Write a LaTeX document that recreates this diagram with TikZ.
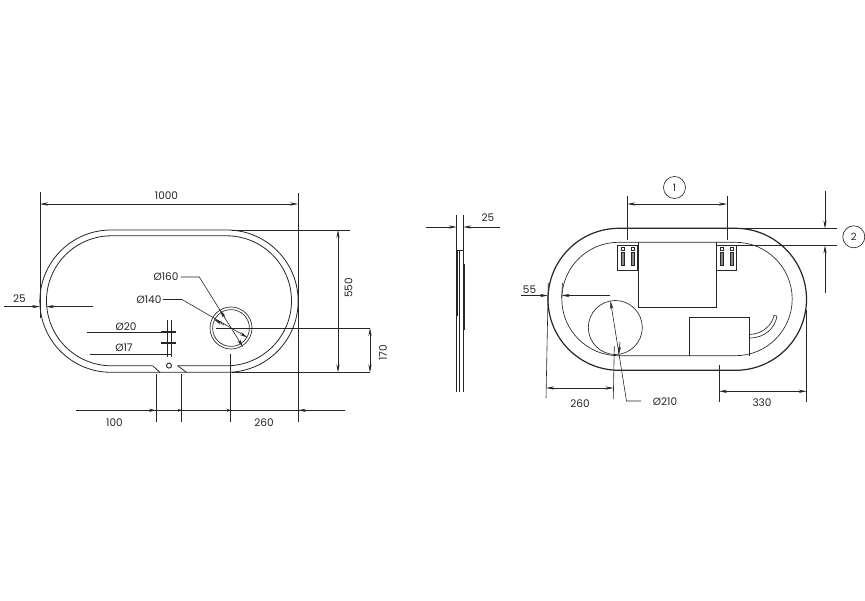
\documentclass[tikz,border=0pt]{standalone}
\usepackage{fontspec}
\setmainfont{Poppins}
\usetikzlibrary{arrows.meta}
\definecolor{ink}{HTML}{262626}
\tikzset{
  thin line/.style={draw=ink,line width=0.65pt},
  med line/.style={draw=ink,line width=0.8pt},
  heavy line/.style={draw=ink,line width=1.2pt},
  dim/.style={draw=ink,line width=0.6pt,arrows={Stealth[length=8pt,width=3.2pt]-Stealth[length=8pt,width=3.2pt]}},
  dimto/.style={draw=ink,line width=0.6pt,arrows={-Stealth[length=8pt,width=3.2pt]}},
  ext/.style={draw=ink,line width=0.6pt},
  lbl/.style={text=ink,font=\fontsize{10.5}{12}\selectfont,inner sep=0pt},
  callout/.style={draw=ink,line width=0.65pt,circle,minimum size=22pt,inner sep=0pt,text=ink,font=\fontsize{10}{12}\selectfont}
}
\begin{document}
\begin{tikzpicture}[x=1pt,y=-1pt]
\useasboundingbox[fill=white] (0,0) rectangle (865,600);
% ---- left view
\draw[med line] (186.5,372.3) -- (111,372.3) arc[start angle=90,end angle=270,radius=71.15] -- (227,230) arc[start angle=-90,end angle=90,radius=71.15] -- cycle;
\draw[med line] (152.7,365.8) -- (111.5,365.8) arc[start angle=90,end angle=270,radius=65] -- (226.5,235.8) arc[start angle=-90,end angle=90,radius=65] -- (177.7,365.8);
\draw[med line] (152.7,365.8) -- (160,372.3) (177.7,365.8) -- (186.5,372.3);
\draw[line width=0.9pt,draw=ink] (169,365.6) circle[radius=2.5];
\draw[thin line] (231,328) circle[radius=21];
\draw[thin line] (231,328) circle[radius=18.4];
% overall dims
\draw[ext] (40,192) -- (40,318);
\draw[ext] (298,193) -- (298,422);
\draw[dim] (40,204) -- (298,204);
\node[lbl] (t1000) at (166.5,196) {1000};
\draw[ext] (232,230) -- (350,230);
\draw[ext] (232,372.3) -- (370,372.3);
\draw[ext] (216,328) -- (370,328);
\draw[dim] (338,230) -- (338,372.3);
\node[lbl,rotate=90] (t550) at (348.5,288) {550};
\draw[dim] (370,328) -- (370,372.3);
\node[lbl,rotate=90] (t170) at (383,353) {170};
% 25 left
\draw[dimto] (4,306.6) -- (40,306.6);
\draw[dimto] (93,306.6) -- (46,306.6);
\node[lbl] (t25a) at (19.5,299) {25};
% small holes
\draw[ext] (167,320) -- (167,357);
\draw[ext] (171.5,320) -- (171.5,357);
\draw[ext] (87,332) -- (176,332);
\draw[line width=1.5pt,draw=ink] (161,332) -- (176,332) (161,343) -- (176,343);
\draw[ext] (90,354) -- (172,354);
\node[lbl] (t20) at (126,327) {Ø20};
\node[lbl] (t17) at (124,348) {Ø17};
% big circle leaders
\node[lbl] (t160) at (166,277) {Ø160};
\node[lbl] (t140) at (149,299.5) {Ø140};
\draw[ext,arrows={-Stealth[length=8pt,width=3.2pt]}] (180.5,277) -- (199.3,277) -- (243,347);
\draw[ext,arrows={-Stealth[length=8pt,width=3.2pt]}] (163,299.5) -- (182,299.5) -- (247.5,337.5);
\draw[dimto] (225,318) -- (220,310);
\draw[dimto] (224,325) -- (214,319.2);
% bottom dim
\draw[ext] (156,374) -- (156,422);
\draw[ext] (181.7,374) -- (181.7,422);
\draw[ext] (230.7,354) -- (230.7,422);
\draw[ext] (76,410.3) -- (345,410.3);
\draw[draw=ink,line width=0.6pt,arrows={-Stealth[length=7pt,width=3.2pt]}] (148,410.3) -- (156,410.3);
\draw[draw=ink,line width=0.6pt,arrows={-Stealth[length=4pt,width=3.2pt]}] (177,410.3) -- (181.7,410.3);
\draw[draw=ink,line width=0.6pt,arrows={-Stealth[length=4pt,width=3.2pt]}] (226,410.3) -- (230.7,410.3);
\draw[dimto] (308,410.3) -- (298,410.3);
\node[lbl] (t100) at (114.5,423) {100};
\node[lbl] (t260a) at (264,423) {260};
% ---- side view
\draw[thin line] (456.7,215) -- (456.7,392);
\draw[thin line] (463.3,215) -- (463.3,392);
\draw[thin line] (459.6,251) -- (459.6,392);
\draw[thin line] (456.7,250.7) -- (463.3,250.7);
\draw[line width=1.1pt,draw=ink] (464,264) -- (464,329.5);
\draw[line width=0.9pt,draw=ink] (457,251) -- (457,316);
\draw[dimto] (426,227) -- (456.7,227);
\draw[dimto] (500,227) -- (463.3,227);
\node[lbl] (t25b) at (488,218) {25};
% ---- right view
\draw[heavy line] (619,228.3) -- (735.5,228.3) arc[start angle=-90,end angle=90,radius=71] -- (619,370.3) arc[start angle=90,end angle=270,radius=71] -- cycle;
\draw[thin line] (618.5,242.3) -- (735.5,242.3) arc[start angle=-90,end angle=90,radius=56.7] -- (618.5,355.7) arc[start angle=90,end angle=270,radius=56.7] -- cycle;
\draw[thin line] (638.3,242.3) -- (638.3,307) -- (716.5,307) -- (716.5,242.3);
\draw[thin line] (615.3,327.5) circle[radius=27];
\draw[thin line] (689.3,355.7) -- (689.3,317) -- (749.3,317) -- (749.3,355.7);
\draw[thin line] (749.3,338) .. controls (765,338) and (775,328) .. (777,316);
\draw[thin line] (749.3,334.5) .. controls (763,334) and (772,325) .. (774,315.5);
\draw[thin line] (774,315.5) -- (777,316);
% connector blocks
\foreach \xa in {617.7,716.7}{
  \draw[line width=0.9pt,draw=ink,fill=white] (\xa,245.3) rectangle ++(20,24.7);
  \foreach \xb in {5,15}{
    \draw[line width=0.5pt,draw=ink] (\xa+\xb-1.2,247.5) rectangle ++(2.4,3);
    \draw[line width=0.5pt,draw=ink,fill=ink!55] (\xa+\xb-1.2,252.5) rectangle ++(2.4,12.5);
  }
}
% dim 1
\draw[ext] (627.3,196) -- (627.3,240);
\draw[ext] (727,196) -- (727,240);
\draw[dim] (627.3,204) -- (727,204);
\node[callout] (c1) at (674.5,187.5) {1};
% dim 2
\draw[ext] (740,228.5) -- (837,228.5);
\draw[ext] (737,245.5) -- (837,245.5);
\draw[dimto] (825,191) -- (825,228.5);
\draw[dimto] (825,293) -- (825,245.5);
\node[callout] (c2) at (853.8,236.8) {2};
% 55
\draw[ext] (548.3,283) -- (546,398);
\draw[ext] (562.5,283) -- (561.7,298);
\draw[dimto] (521,295.5) -- (548,295.5);
\draw[dimto] (610,295.5) -- (561.7,295.5);
\node[lbl] (t55) at (529.5,290) {55};
% 260
\draw[ext] (614.3,346) -- (613.3,399);
\draw[dim] (546.2,388) -- (613.5,388);
\node[lbl] (t260b) at (580,404) {260};
% Ø210
\node[lbl] (t210) at (665,402) {Ø210};
\draw[ext,arrows={-Stealth[length=8pt,width=3.2pt]}] (641,401) -- (626.5,401) -- (610.5,301);
\draw[dimto] (620,342) -- (618.7,354.5);
% 330
\draw[ext] (719,365) -- (719,402);
\draw[ext] (806.7,310) -- (806.7,402);
\draw[dim] (719,391.3) -- (806.7,391.3);
\node[lbl] (t330) at (762,403) {330};
\end{tikzpicture}
\end{document}
